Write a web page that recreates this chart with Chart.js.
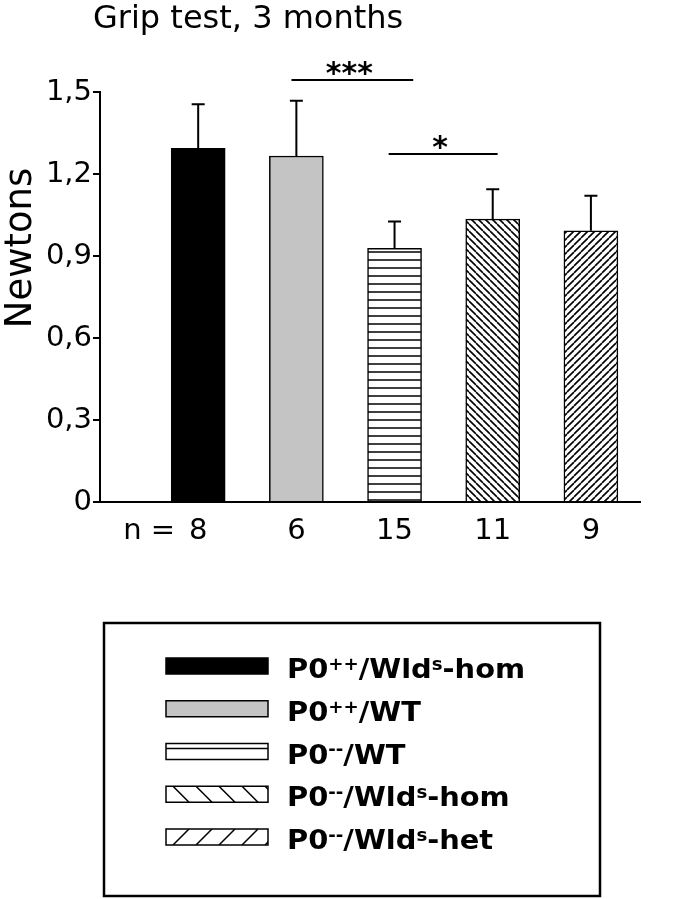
<!DOCTYPE html>
<html>
<head>
<meta charset="utf-8">
<title>Grip test, 3 months</title>
<script src="https://cdn.jsdelivr.net/npm/chart.js@4.4.1/dist/chart.umd.min.js"></script>
<style>
  html, body { margin: 0; padding: 0; background: #fff; }
  #wrap { width: 689px; height: 899px; }
  canvas { display: block; }
</style>
</head>
<body>
<div id="wrap"><canvas id="gripChart" width="689" height="899"></canvas></div>
<script>
// groups in plotting order (^{..} = superscript)
const groups = ['P0^{++}/Wld^{s}-hom', 'P0^{++}/WT', 'P0^{--}/WT', 'P0^{--}/Wld^{s}-hom', 'P0^{--}/Wld^{s}-het'];
const nCounts = [8, 6, 15, 11, 9];
const meanForce = [1.294, 1.266, 0.928, 1.035, 0.992];
const semForce = [0.161, 0.202, 0.098, 0.109, 0.128];
const yTicks = [0, 0.3, 0.6, 0.9, 1.2, 1.5];

// significance lines, in group units / newtons
const sigStart = [1.95, 2.94];
const sigEnd = [3.19, 4.05];
const sigLevel = [1.544, 1.273];
const sigLabel = ['***', '*'];

Chart.defaults.font.family = '"DejaVu Sans"';
Chart.defaults.color = '#000';

const canvas = document.getElementById('gripChart');
const ctx = canvas.getContext('2d');

// --- fill patterns for the bars ---
function makePattern(kind, step, lw) {
  const c = document.createElement('canvas');
  c.width = step; c.height = step;
  const g = c.getContext('2d');
  g.fillStyle = '#fff';
  g.fillRect(0, 0, step, step);
  g.strokeStyle = '#000';
  g.lineWidth = lw;
  g.beginPath();
  if (kind === 'horizontal') {
    g.moveTo(0, step / 2); g.lineTo(step, step / 2);
  } else if (kind === 'back') {
    for (let k = -1; k <= 1; k++) { g.moveTo(k * step, 0); g.lineTo(k * step + step, step); }
  } else {
    for (let k = 0; k <= 2; k++) { g.moveTo(k * step, 0); g.lineTo(k * step - step, step); }
  }
  g.stroke();
  return ctx.createPattern(c, 'repeat');
}

const barFills = [
  '#000000',
  '#c4c4c4',
  makePattern('horizontal', 8, 1.5),
  makePattern('back', 7, 1.6),
  makePattern('forward', 7, 1.6)
];
const legendKinds = ['solid', 'solid', 'horizontal', 'back', 'forward'];

// --- legend swatch drawing ---
function drawSwatch(c, i, x, y, w, h) {
  c.save();
  c.fillStyle = legendKinds[i] === 'solid' ? barFills[i] : '#fff';
  c.fillRect(x, y, w, h);
  c.beginPath();
  c.rect(x, y, w, h);
  c.clip();
  c.strokeStyle = '#000';
  c.lineWidth = 1.5;
  c.beginPath();
  if (legendKinds[i] === 'horizontal') {
    c.moveTo(x, y + 5); c.lineTo(x + w, y + 5);
  } else if (legendKinds[i] === 'back') {
    for (let x0 = x - h; x0 < x + w; x0 += 23) { c.moveTo(x0, y); c.lineTo(x0 + h, y + h); }
  } else if (legendKinds[i] === 'forward') {
    for (let x0 = x; x0 < x + w + h; x0 += 23) { c.moveTo(x0, y); c.lineTo(x0 - h, y + h); }
  }
  c.stroke();
  c.restore();
  c.strokeStyle = '#000';
  c.lineWidth = 1.5;
  c.strokeRect(x, y, w, h);
}

function drawRich(c, text, x, y, size, sx) {
  const parts = text.split(/\^\{([^}]*)\}/);
  c.save();
  c.translate(x, y);
  c.scale(sx, 1);
  c.fillStyle = '#000';
  c.textAlign = 'left';
  c.textBaseline = 'alphabetic';
  let cx = 0;
  parts.forEach((p, k) => {
    const sup = k % 2 === 1;
    c.font = 'bold ' + (sup ? Math.round(size * 0.63) : size) + 'px "DejaVu Sans"';
    c.fillText(p, cx, sup ? -size * 0.3 : 0);
    cx += c.measureText(p).width;
  });
  c.restore();
}

// --- extras: error bars, significance, titles, legend ---
const extras = {
  id: 'extras',
  afterDatasetsDraw(chart) {
    const c = chart.ctx, xs = chart.scales.x, ys = chart.scales.y;
    c.save();
    c.strokeStyle = '#000';
    c.lineWidth = 2;
    meanForce.forEach((m, i) => {
      const x = xs.getPixelForValue(i + 1);
      const y0 = ys.getPixelForValue(m);
      const y1 = ys.getPixelForValue(m + semForce[i]);
      c.beginPath();
      c.moveTo(x, y0); c.lineTo(x, y1);
      c.moveTo(x - 6.5, y1); c.lineTo(x + 6.5, y1);
      c.stroke();
    });
    c.restore();
  },
  afterDraw(chart) {
    const c = chart.ctx, xs = chart.scales.x, ys = chart.scales.y;
    c.save();
    c.fillStyle = '#000';
    c.strokeStyle = '#000';

    // significance lines
    c.lineWidth = 2;
    sigLabel.forEach((lab, i) => {
      const xa = xs.getPixelForValue(sigStart[i]);
      const xb = xs.getPixelForValue(sigEnd[i]);
      const y = ys.getPixelForValue(sigLevel[i]);
      c.beginPath();
      c.moveTo(xa, y); c.lineTo(xb, y);
      c.stroke();
      c.font = 'bold 30px "DejaVu Sans"';
      c.textAlign = 'center';
      c.textBaseline = 'alphabetic';
      c.fillText(lab, (xa + xb) / 2 - 3, y + 3);
    });

    // chart title
    c.font = '32px "DejaVu Sans"';
    c.textAlign = 'left';
    c.textBaseline = 'alphabetic';
    c.fillText('Grip test, 3 months', 93, 28);

    // y axis title
    c.save();
    c.translate(31, 248);
    c.rotate(-Math.PI / 2);
    c.font = '37px "DejaVu Sans"';
    c.textAlign = 'center';
    c.fillText('Newtons', 0, 0);
    c.restore();

    // legend box
    c.lineWidth = 2.5;
    c.strokeRect(104, 623, 496, 273);
    groups.forEach((g, i) => {
      const top = 658 + i * 42.75;
      drawSwatch(c, i, 166, top, 102, 16);
      drawRich(c, g, 287, top + 20, 27, 1.07);
    });
    c.restore();
  }
};

new Chart(ctx, {
  type: 'bar',
  data: {
    datasets: [{
      data: meanForce.map((m, i) => ({ x: i + 1, y: m })),
      backgroundColor: barFills,
      borderColor: '#000',
      borderWidth: 1.5,
      barThickness: 54
    }]
  },
  options: {
    responsive: false,
    animation: false,
    layout: { padding: { left: 0, right: 49, top: 92, bottom: 337 } },
    plugins: {
      legend: { display: false },
      tooltip: { enabled: false },
      title: { display: false }
    },
    scales: {
      x: {
        type: 'linear',
        min: 0,
        max: 5.5,
        offset: false,
        afterBuildTicks: s => {
          s.ticks = [{ value: 0.5 }].concat(nCounts.map((n, i) => ({ value: i + 1 })));
        },
        afterFit: s => { s.height = 60; },
        grid: { display: false, drawTicks: false, offset: false },
        border: { display: true, color: '#000', width: 2 },
        ticks: {
          autoSkip: false,
          maxRotation: 0,
          padding: 12,
          font: { size: 29 },
          callback: v => v === 0.5 ? 'n =' : String(nCounts[v - 1])
        }
      },
      y: {
        min: 0,
        max: 1.5,
        afterBuildTicks: s => { s.ticks = yTicks.map(v => ({ value: v })); },
        afterFit: s => { s.width = 100; },
        grid: { display: true, drawOnChartArea: false, drawTicks: true, tickLength: 7, color: '#000', lineWidth: 2 },
        border: { display: true, color: '#000', width: 2 },
        ticks: {
          padding: 1,
          font: { size: 29 },
          callback: v => v === 0 ? '0' : v.toFixed(1).replace('.', ',')
        }
      }
    }
  },
  plugins: [extras]
});
</script>
</body>
</html>
